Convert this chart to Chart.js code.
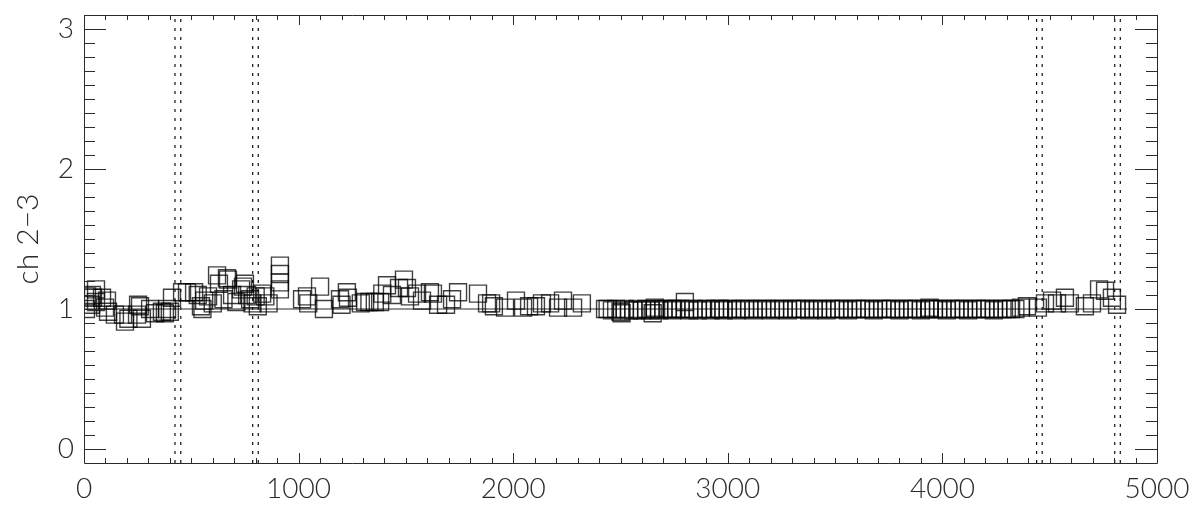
<!DOCTYPE html>
<html>
<head>
<meta charset="utf-8">
<script src="https://cdn.jsdelivr.net/npm/chart.js@4.4.1/dist/chart.umd.min.js"></script>
<style>
  html, body { margin: 0; padding: 0; background: #fff; }
  #wrap { width: 1194px; height: 509px; }
</style>
</head>
<body>
<div id="wrap"><canvas id="ratio-chart" width="1194" height="509"></canvas></div>
<script>
// tick labels
const xTicks = [0, 1000, 2000, 3000, 4000, 5000];
const yTicks = [0, 1, 2, 3];

// dotted markers (pairs) and the reference line at 1
const markerX = [424, 451, 786, 812, 4439, 4465, 4803, 4829];
const refLineX = [0, 4860];
const refLineY = [1, 1];

// ratio points
const startX = [9, 14, 33, 37, 42, 56, 56, 84, 98, 107];
const startY = [1.0, 1.09, 1.03, 1.1, 1.08, 1.05, 1.14, 1.08, 1.01, 1.06];

const dipX = [112, 144, 182, 191, 207, 247, 252, 261, 270, 308, 331, 363, 377, 387, 400];
const dipY = [0.98, 0.96, 0.96, 0.91, 0.93, 0.96, 1.03, 1.02, 0.93, 1.0, 0.97, 0.98, 0.97, 1.0, 0.98];

const riseX = [410, 457, 480, 513, 530, 545, 552, 560, 578, 600, 620, 629, 650, 666, 671, 690, 710, 732, 741, 750, 760, 774, 785, 800, 810];
const riseY = [1.08, 1.12, 1.12, 1.12, 1.1, 1.02, 1.0, 1.06, 1.09, 1.04, 1.24, 1.18, 1.07, 1.22, 1.21, 1.1, 1.05, 1.14, 1.16, 1.18, 1.1, 1.07, 1.04, 1.09, 1.02];

const bumpX = [830, 845, 860, 913, 913, 913, 913, 1016, 1039, 1045, 1100, 1118, 1193, 1200, 1225, 1230, 1290, 1310, 1330, 1355, 1380, 1390, 1412, 1435, 1468, 1491, 1505, 1519, 1552, 1575, 1612];
const bumpY = [1.11, 1.09, 1.04, 1.31, 1.25, 1.19, 1.14, 1.07, 1.09, 1.04, 1.16, 1.0, 1.07, 1.03, 1.12, 1.08, 1.04, 1.05, 1.05, 1.05, 1.05, 1.11, 1.17, 1.1, 1.15, 1.21, 1.15, 1.09, 1.11, 1.06, 1.12];

const settleX = [1626, 1650, 1687, 1715, 1743, 1836, 1878, 1897, 1910, 1962, 2013, 2046, 2074, 2106, 2134, 2172, 2209, 2232, 2279, 2320, 2428];
const settleY = [1.11, 1.03, 1.03, 1.07, 1.12, 1.11, 1.04, 1.04, 1.02, 1.01, 1.06, 1.01, 1.02, 1.02, 1.04, 1.04, 1.01, 1.06, 1.01, 1.04, 1.0];

const combX = [
  2440, 2460, 2480, 2500, 2520, 2540, 2560, 2580, 2600, 2620,
  2640, 2660, 2680, 2700, 2720, 2740, 2760, 2780, 2800, 2820,
  2840, 2860, 2880, 2900, 2920, 2940, 2960, 2980, 3000, 3020,
  3040, 3060, 3080, 3100, 3120, 3140, 3160, 3180, 3200, 3220,
  3240, 3260, 3280, 3300, 3320, 3340, 3360, 3380, 3400, 3420,
  3440, 3460, 3480, 3500, 3520, 3540, 3560, 3580, 3600, 3620,
  3640, 3660, 3680, 3700, 3720, 3740, 3760, 3780, 3800, 3820,
  3840, 3860, 3880, 3900, 3920, 3940, 3960, 3980, 4000, 4020,
  4040, 4060, 4080, 4100, 4120, 4140, 4160, 4180, 4200, 4220,
  4240, 4260, 4280, 4300, 4320, 4340,
];
const combY = [
  1.0, 0.99, 1.0, 0.98, 1.0, 0.99, 0.99, 1.0, 0.99, 1.0,
  0.99, 1.0, 0.99, 1.0, 1.0, 0.99, 1.0, 1.0, 1.0, 0.99,
  1.0, 0.99, 1.0, 1.0, 0.99, 1.0, 1.0, 0.99, 1.0, 1.0,
  0.99, 1.0, 1.0, 1.0, 0.99, 1.0, 1.0, 1.0, 0.99, 1.0,
  1.0, 1.0, 0.99, 1.0, 1.0, 1.0, 1.0, 0.99, 1.0, 1.0,
  1.0, 0.99, 1.0, 1.0, 1.0, 1.0, 0.99, 1.0, 1.0, 1.0,
  1.0, 1.0, 0.99, 1.0, 1.0, 1.0, 1.0, 1.0, 0.99, 1.0,
  1.0, 1.0, 1.0, 0.99, 1.0, 1.0, 1.0, 1.0, 1.0, 0.99,
  1.0, 1.0, 1.0, 1.0, 0.99, 1.0, 1.0, 1.0, 1.0, 1.0,
  0.99, 1.0, 1.0, 1.0, 1.0, 1.0,
];
const combExtraX = [2505, 2650, 2660, 2745, 2800, 2964, 3940];
const combExtraY = [0.97, 0.97, 1.01, 1.0, 1.05, 1.0, 1.01];

const tailX = [4366, 4394, 4445, 4478, 4511, 4534, 4571, 4594, 4664, 4697, 4730, 4758, 4790, 4814];
const tailY = [1.01, 1.02, 1.01, 1.04, 1.06, 1.04, 1.08, 1.04, 1.02, 1.04, 1.14, 1.13, 1.08, 1.03];

const xMin = 0;
const xMax = 5000;
const yMin = -0.1;
const yMax = 3.1;

const ink = "#2b2b2b";
const squareInk = "rgba(0, 0, 0, 0.75)";
const fontFamily = "Lato, 'DejaVu Sans', sans-serif";
const labelFont = { family: fontFamily, size: 28, weight: "300" };

const toPoints = (xs, ys) => xs.map((x, i) => ({ x, y: ys[i] }));

const ratioPoints = [
  ...toPoints(startX, startY),
  ...toPoints(dipX, dipY),
  ...toPoints(riseX, riseY),
  ...toPoints(bumpX, bumpY),
  ...toPoints(settleX, settleY),
  ...toPoints(combX, combY),
  ...toPoints(combExtraX, combExtraY),
  ...toPoints(tailX, tailY),
];

const markerSets = markerX.map((mx) => ({
  type: "line",
  data: [{ x: mx, y: yMin }, { x: mx, y: yMax }],
  borderColor: "#111",
  borderWidth: 1.2,
  borderDash: [3, 6],
  pointRadius: 0,
  showLine: true,
}));

// IDL style frame: box with inward ticks on all four sides
const frameTicks = {
  id: "frameTicks",
  afterDatasetsDraw(chart) {
    const { ctx, chartArea: a, scales } = chart;
    const x = scales.x;
    const y = scales.y;
    ctx.save();
    ctx.strokeStyle = ink;
    ctx.lineWidth = 1;
    ctx.beginPath();
    ctx.rect(a.left + 0.5, a.top + 0.5, a.right - a.left, a.bottom - a.top);
    for (let v = xMin; v <= xMax; v += 100) {
      const px = Math.round(x.getPixelForValue(v)) + 0.5;
      const len = v % 1000 === 0 ? 10 : 5;
      ctx.moveTo(px, a.bottom);
      ctx.lineTo(px, a.bottom - len);
      ctx.moveTo(px, a.top);
      ctx.lineTo(px, a.top + len);
    }
    for (let i = 0; i <= 30; i++) {
      const py = Math.round(y.getPixelForValue(i / 10)) + 0.5;
      const len = i % 10 === 0 ? 22 : 11;
      ctx.moveTo(a.left, py);
      ctx.lineTo(a.left + len, py);
      ctx.moveTo(a.right, py);
      ctx.lineTo(a.right - len, py);
    }
    ctx.stroke();
    ctx.restore();
  },
};

const ctxRatio = document.getElementById("ratio-chart").getContext("2d");

new Chart(ctxRatio, {
  type: "scatter",
  data: {
    datasets: [
      {
        label: "ch 2-3",
        data: ratioPoints,
        pointStyle: "rect",
        pointRadius: 12,
        pointHoverRadius: 12,
        backgroundColor: "rgba(0,0,0,0)",
        borderColor: squareInk,
        borderWidth: 1.4,
      },
      {
        type: "line",
        data: toPoints(refLineX, refLineY),
        borderColor: ink,
        borderWidth: 1,
        pointRadius: 0,
        showLine: true,
      },
      ...markerSets,
    ],
  },
  options: {
    responsive: false,
    animation: false,
    devicePixelRatio: 1,
    layout: {
      padding: { left: 0, right: 37, top: 15, bottom: 0 },
    },
    plugins: {
      legend: { display: false },
      tooltip: { enabled: false },
    },
    scales: {
      x: {
        type: "linear",
        min: xMin,
        max: xMax,
        grid: { display: false, drawTicks: false },
        border: { display: false },
        afterBuildTicks: (scale) => {
          scale.ticks = xTicks.map((v) => ({ value: v }));
        },
        ticks: {
          color: ink,
          font: labelFont,
          padding: 9,
          maxRotation: 0,
          autoSkip: false,
          callback: (value) => String(value),
        },
        afterFit: (scale) => {
          scale.height = 46;
          scale.paddingLeft = 0;
          scale.paddingRight = 0;
        },
      },
      y: {
        type: "linear",
        min: yMin,
        max: yMax,
        grid: { display: false, drawTicks: false },
        border: { display: false },
        afterBuildTicks: (scale) => {
          scale.ticks = yTicks.map((v) => ({ value: v }));
        },
        ticks: {
          color: ink,
          font: labelFont,
          padding: 10,
          autoSkip: false,
          callback: (value) => String(value),
        },
        title: {
          display: true,
          text: "ch 2\u22123",
          color: ink,
          font: { family: fontFamily, size: 30, weight: "300" },
          padding: { top: 10, bottom: 0 },
        },
        afterFit: (scale) => {
          scale.width = 84;
          scale.paddingTop = 0;
          scale.paddingBottom = 0;
        },
      },
    },
  },
  plugins: [frameTicks],
});
</script>
</body>
</html>
